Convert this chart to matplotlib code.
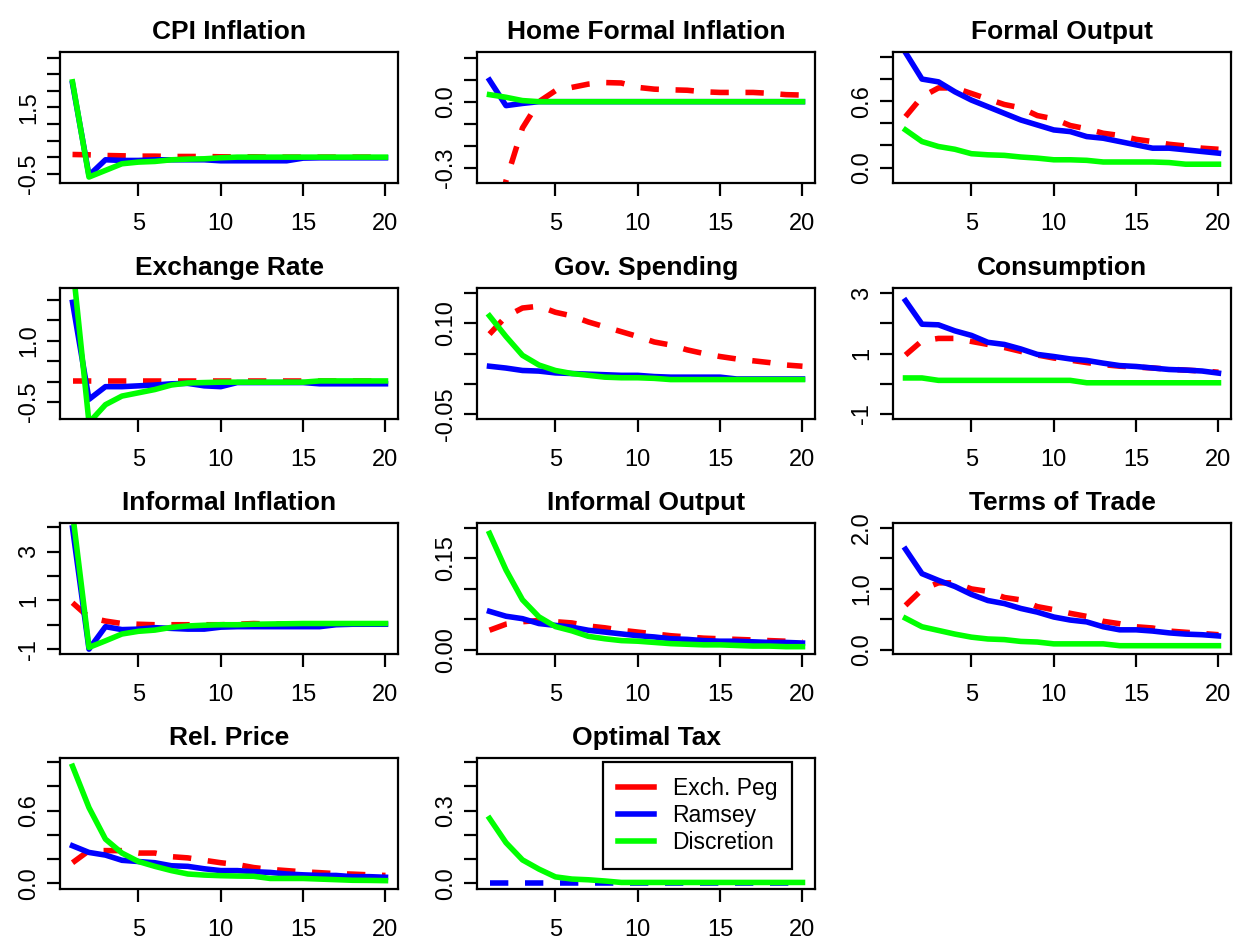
import matplotlib as mpl
import matplotlib.pyplot as plt
from matplotlib.lines import Line2D

# impulse responses, periods 1..20
HORIZON = list(range(1, 21))
SERIES = ["Exch. Peg", "Ramsey", "Discretion"]

CPI_PEG = [0.08, 0.07, 0.05, 0.04, 0.03, 0.03, 0.02, 0.02, 0.02, 0.01,
           0.01, 0.01, 0.0, 0.0, 0.0, 0.0, 0.0, 0.0, 0.0, 0.0]
CPI_RAMSEY = [2.22, -0.55, -0.08, -0.1, -0.1, -0.08, -0.08, -0.08, -0.08, -0.11,
              -0.11, -0.11, -0.11, -0.11, -0.03, -0.02, -0.02, -0.02, -0.02, -0.02]
CPI_DISC = [2.27, -0.6, -0.4, -0.2, -0.15, -0.13, -0.08, -0.06, -0.05, -0.02,
            0.0, 0.0, 0.0, 0.0, 0.0, 0.0, 0.0, 0.0, 0.0, 0.0]

HFI_PEG = [-0.75, -0.36, -0.12, 0.0, 0.05, 0.065, 0.08, 0.087, 0.085, 0.065,
           0.057, 0.054, 0.052, 0.045, 0.042, 0.042, 0.042, 0.038, 0.032, 0.03]
HFI_RAMSEY = [0.098, -0.018, -0.008, 0.0, 0.0, 0.0, 0.0, 0.0, 0.0, 0.0,
              0.0, 0.0, 0.0, 0.0, 0.0, 0.0, 0.0, 0.0, 0.0, 0.0]
HFI_DISC = [0.032, 0.02, 0.005, 0.0, 0.0, 0.0, 0.0, 0.0, 0.0, 0.0,
            0.0, 0.0, 0.0, 0.0, 0.0, 0.0, 0.0, 0.0, 0.0, 0.0]

FO_PEG = [0.46, 0.64, 0.72, 0.72, 0.67, 0.62, 0.57, 0.54, 0.47, 0.44,
          0.38, 0.35, 0.31, 0.29, 0.255, 0.235, 0.21, 0.195, 0.175, 0.165]
FO_RAMSEY = [1.04, 0.80, 0.775, 0.685, 0.61, 0.55, 0.49, 0.43, 0.385, 0.34,
             0.325, 0.28, 0.265, 0.235, 0.205, 0.175, 0.175, 0.16, 0.145, 0.13]
FO_DISC = [0.34, 0.235, 0.19, 0.165, 0.125, 0.115, 0.11, 0.095, 0.085, 0.07,
           0.07, 0.065, 0.05, 0.05, 0.05, 0.05, 0.045, 0.03, 0.03, 0.03]

ER_PEG = [0.02] * 20
ER_RAMSEY = [1.94, -0.43, -0.12, -0.12, -0.1, -0.08, -0.05, -0.04, -0.1, -0.12,
             -0.02, -0.02, -0.02, -0.02, -0.02, -0.05, -0.05, -0.05, -0.05, -0.05]
ER_DISC = [2.9, -1.0, -0.56, -0.35, -0.27, -0.19, -0.08, -0.03, -0.02, -0.01,
           -0.01, -0.01, -0.01, -0.01, -0.01, 0.02, 0.02, 0.02, 0.02, 0.02]

GS_PEG = [0.082, 0.111, 0.125, 0.128, 0.118, 0.112, 0.102, 0.094, 0.086, 0.078,
          0.069, 0.064, 0.056, 0.050, 0.045, 0.041, 0.038, 0.035, 0.031, 0.029]
GS_RAMSEY = [0.029, 0.026, 0.022, 0.021, 0.018, 0.017, 0.016, 0.015, 0.014, 0.014,
             0.012, 0.011, 0.011, 0.011, 0.011, 0.008, 0.008, 0.008, 0.008, 0.008]
GS_DISC = [0.112, 0.078, 0.047, 0.031, 0.022, 0.017, 0.014, 0.011, 0.010, 0.010,
           0.009, 0.007, 0.007, 0.007, 0.007, 0.007, 0.007, 0.007, 0.007, 0.007]

CONS_PEG = [0.95, 1.42, 1.5, 1.5, 1.4, 1.3, 1.2, 1.07, 0.95, 0.85,
            0.78, 0.7, 0.63, 0.58, 0.55, 0.52, 0.48, 0.45, 0.42, 0.38]
CONS_RAMSEY = [2.75, 1.97, 1.95, 1.75, 1.6, 1.37, 1.3, 1.15, 0.97, 0.9,
               0.82, 0.77, 0.68, 0.6, 0.57, 0.52, 0.47, 0.45, 0.42, 0.35]
CONS_DISC = [0.19, 0.19, 0.11, 0.11, 0.11, 0.11, 0.11, 0.11, 0.11, 0.11,
             0.11, 0.03, 0.03, 0.03, 0.03, 0.03, 0.03, 0.03, 0.03, 0.03]

II_PEG = [0.9, 0.3, 0.15, 0.05, 0.02, 0.0, 0.0, 0.0, 0.0, 0.0,
          0.02, 0.05, 0.03, 0.02, 0.02, 0.02, 0.02, 0.02, 0.02, 0.02]
II_RAMSEY = [3.97, -1.0, -0.08, -0.2, -0.18, -0.12, -0.15, -0.18, -0.18, -0.1,
             -0.08, -0.08, -0.08, -0.08, -0.08, -0.08, 0.0, 0.02, 0.02, 0.02]
II_DISC = [4.6, -0.93, -0.66, -0.38, -0.27, -0.22, -0.11, -0.05, -0.02, 0.0,
           0.0, 0.02, 0.03, 0.04, 0.05, 0.05, 0.05, 0.05, 0.05, 0.05]

IO_PEG = [0.032, 0.042, 0.046, 0.048, 0.046, 0.044, 0.039, 0.036, 0.032, 0.029,
          0.026, 0.023, 0.021, 0.019, 0.018, 0.017, 0.016, 0.015, 0.014, 0.013]
IO_RAMSEY = [0.063, 0.055, 0.051, 0.043, 0.040, 0.037, 0.032, 0.029, 0.026, 0.023,
             0.021, 0.018, 0.017, 0.015, 0.014, 0.014, 0.013, 0.012, 0.012, 0.011]
IO_DISC = [0.191, 0.131, 0.082, 0.054, 0.038, 0.031, 0.022, 0.018, 0.015, 0.014,
           0.012, 0.010, 0.009, 0.008, 0.008, 0.007, 0.006, 0.006, 0.005, 0.005]

TOT_PEG = [0.73, 0.99, 1.1, 1.1, 1.0, 0.96, 0.86, 0.82, 0.71, 0.66,
           0.6, 0.55, 0.47, 0.43, 0.38, 0.36, 0.31, 0.29, 0.27, 0.25]
TOT_RAMSEY = [1.65, 1.25, 1.14, 1.04, 0.91, 0.81, 0.76, 0.68, 0.62, 0.54,
              0.49, 0.46, 0.38, 0.33, 0.33, 0.31, 0.28, 0.26, 0.25, 0.23]
TOT_DISC = [0.52, 0.38, 0.32, 0.26, 0.21, 0.18, 0.17, 0.14, 0.13, 0.1,
            0.1, 0.1, 0.1, 0.07, 0.07, 0.07, 0.07, 0.07, 0.07, 0.07]

RP_PEG = [0.17, 0.27, 0.27, 0.27, 0.25, 0.25, 0.22, 0.21, 0.19, 0.17,
          0.155, 0.13, 0.115, 0.105, 0.095, 0.088, 0.08, 0.076, 0.07, 0.065]
RP_RAMSEY = [0.31, 0.255, 0.233, 0.19, 0.18, 0.17, 0.145, 0.14, 0.12, 0.105,
             0.105, 0.096, 0.09, 0.077, 0.07, 0.065, 0.065, 0.055, 0.055, 0.05]
RP_DISC = [0.967, 0.625, 0.365, 0.25, 0.18, 0.14, 0.105, 0.077, 0.068, 0.063,
           0.06, 0.058, 0.04, 0.04, 0.04, 0.035, 0.03, 0.025, 0.024, 0.022]

TAX_PEG = None
TAX_RAMSEY = [0.0] * 20
TAX_DISC = [0.268, 0.168, 0.097, 0.059, 0.027, 0.018, 0.015, 0.01, 0.004, 0.004,
            0.004, 0.004, 0.004, 0.004, 0.004, 0.004, 0.004, 0.004, 0.004, 0.004]

TITLES = ["CPI Inflation", "Home Formal Inflation", "Formal Output",
          "Exchange Rate", "Gov. Spending", "Consumption",
          "Informal Inflation", "Informal Output", "Terms of Trade",
          "Rel. Price", "Optimal Tax"]
PEG = [CPI_PEG, HFI_PEG, FO_PEG, ER_PEG, GS_PEG, CONS_PEG, II_PEG, IO_PEG, TOT_PEG, RP_PEG, TAX_PEG]
RAMSEY = [CPI_RAMSEY, HFI_RAMSEY, FO_RAMSEY, ER_RAMSEY, GS_RAMSEY, CONS_RAMSEY,
          II_RAMSEY, IO_RAMSEY, TOT_RAMSEY, RP_RAMSEY, TAX_RAMSEY]
DISC = [CPI_DISC, HFI_DISC, FO_DISC, ER_DISC, GS_DISC, CONS_DISC, II_DISC, IO_DISC,
        TOT_DISC, RP_DISC, TAX_DISC]

# y axis: (ylim, tick values, labelled ticks) -- R skips labels that would overlap
YAXES = [
    ((-0.78, 3.17), [-0.5, 0, 0.5, 1, 1.5, 2, 2.5, 3], {-0.5: "-0.5", 1.5: "1.5"}),
    ((-0.37, 0.226), [-0.3, -0.2, -0.1, 0, 0.1, 0.2], {-0.3: "-0.3", 0: "0.0"}),
    ((-0.14, 1.045), [0, 0.2, 0.4, 0.6, 0.8, 1.0], {0: "0.0", 0.6: "0.6"}),
    ((-0.91, 2.29), [-0.5, 0, 0.5, 1, 1.5, 2], {-0.5: "-0.5", 1: "1.0"}),
    ((-0.058, 0.158), [-0.05, 0, 0.05, 0.10, 0.15], {-0.05: "-0.05", 0.10: "0.10"}),
    ((-1.17, 3.17), [-1, 0, 1, 2, 3], {-1: "-1", 1: "1", 3: "3"}),
    ((-1.2, 4.17), [-1, 0, 1, 2, 3, 4], {-1: "-1", 1: "1", 3: "3"}),
    ((-0.007, 0.208), [0, 0.05, 0.10, 0.15, 0.20], {0: "0.00", 0.15: "0.15"}),
    ((-0.066, 2.08), [0, 0.5, 1, 1.5, 2], {0: "0.0", 1: "1.0", 2: "2.0"}),
    ((-0.047, 1.035), [0, 0.2, 0.4, 0.6, 0.8, 1.0], {0: "0.0", 0.6: "0.6"}),
    ((-0.023, 0.517), [0, 0.1, 0.2, 0.3, 0.4, 0.5], {0: "0.0", 0.3: "0.3"}),
]

RED, BLUE, GREEN = "#ff0000", "#0000ff", "#00ff00"
LW = 4.0
DASH = (3.3, 3.0)

# panel boxes in pixels
COL_LEFT = [60, 477, 893]
COL_W = 338
ROW_TOP = [52, 288, 523, 758]
ROW_H = 131
W, H = 1235, 943


def main():
    mpl.rcParams.update({
        "font.family": ["Liberation Sans", "DejaVu Sans"],
        "axes.linewidth": 1.6,
        "xtick.major.size": 9.4, "ytick.major.size": 9.4,
        "xtick.major.width": 1.6, "ytick.major.width": 1.6,
        "xtick.labelsize": 17, "ytick.labelsize": 17,
    })
    fig = plt.figure(figsize=(W / 100, H / 100), dpi=100)

    for i, title in enumerate(TITLES):
        r, c = divmod(i, 3)
        left, top = COL_LEFT[c], ROW_TOP[r]
        ax = fig.add_axes([left / W, 1 - (top + ROW_H) / H, COL_W / W, ROW_H / H])

        if PEG[i] is not None:
            ax.plot(HORIZON, PEG[i], color=RED, lw=LW, dashes=DASH)
        if RAMSEY[i] is not None:
            if title == "Optimal Tax":
                ax.plot(HORIZON, RAMSEY[i], color=BLUE, lw=LW, dashes=DASH)
            else:
                ax.plot(HORIZON, RAMSEY[i], color=BLUE, lw=LW, solid_joinstyle="round")
        ax.plot(HORIZON, DISC[i], color=GREEN, lw=LW, solid_joinstyle="round")

        ylim, yticks, ylabels = YAXES[i]
        ax.set_xlim(0.24, 20.76)
        ax.set_ylim(*ylim)
        ax.set_xticks([5, 10, 15, 20])
        ax.set_yticks(yticks)
        ax.set_yticklabels([ylabels.get(t, "") for t in yticks], rotation=90, va="center")
        ax.tick_params(axis="x", pad=12)
        ax.tick_params(axis="y", pad=5)
        ax.set_title(title, fontsize=19, fontweight="bold", pad=9.4)

        if title == "Optimal Tax":
            handles = [Line2D([], [], color=col, lw=LW) for col in (RED, BLUE, GREEN)]
            leg = ax.legend(handles, SERIES, loc="upper right", bbox_to_anchor=(0.932, 0.97),
                            borderaxespad=0, fontsize=16.5, fancybox=False, framealpha=1,
                            edgecolor="black", handlelength=1.6, handletextpad=0.8,
                            labelspacing=0.18, borderpad=0.65)
            leg.get_frame().set_linewidth(1.6)

    fig.savefig("out.png", dpi=100)


if __name__ == "__main__":
    main()
